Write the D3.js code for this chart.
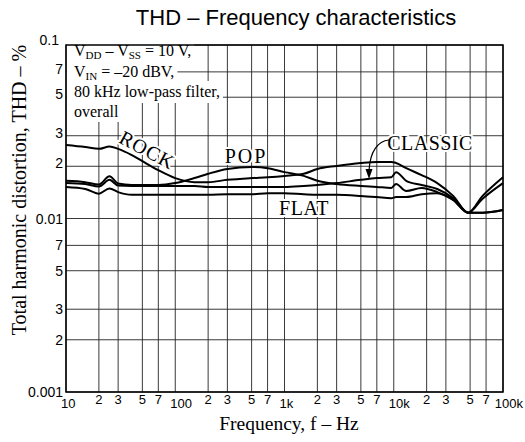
<!DOCTYPE html>
<html lang="en">
<head>
<meta charset="UTF-8">
<title>THD - Frequency characteristics</title>
<script src="https://d3js.org/d3.v7.min.js"></script>
<style>
  body { margin: 0; background: #fff; }
  .serif { font-family: "Liberation Serif", "Times New Roman", serif; }
  .sans { font-family: "Liberation Sans", Arial, sans-serif; }
</style>
</head>
<body>
<svg id="chart" width="525" height="442"></svg>
<script>
// frequencies (Hz) the curves were read at
var freqs   = [10, 15, 20, 25, 30, 40, 50, 70, 100, 150, 200, 300, 500, 700, 1000, 1500, 2000, 3000, 5000, 7000, 9500, 10500, 13000, 18000, 25000, 35000, 48000, 65000, 100000];
// THD (%) for each equalizer setting
var rock    = [0.0265, 0.0258, 0.0252, 0.0260, 0.0252, 0.0232, 0.0214, 0.0190, 0.0171, 0.0162, 0.0162, 0.0167, 0.0171, 0.0173, 0.0176, 0.0181, 0.0193, 0.0201, 0.0209, 0.0212, 0.0212, 0.0209, 0.0195, 0.0178, 0.0160, 0.0135, 0.0108, 0.0135, 0.0173];
var pop     = [0.0165, 0.0162, 0.0157, 0.0175, 0.0159, 0.0156, 0.0156, 0.0156, 0.0160, 0.0171, 0.0181, 0.0193, 0.0198, 0.0195, 0.0185, 0.0176, 0.0165, 0.0158, 0.0154, 0.0152, 0.0150, 0.0158, 0.0144, 0.0150, 0.0142, 0.0128, 0.0108, 0.0108, 0.0112];
var classic = [0.0160, 0.0158, 0.0153, 0.0167, 0.0155, 0.0154, 0.0154, 0.0154, 0.0154, 0.0154, 0.0152, 0.0152, 0.0152, 0.0152, 0.0152, 0.0154, 0.0156, 0.0160, 0.0167, 0.0171, 0.0173, 0.0185, 0.0165, 0.0156, 0.0148, 0.0131, 0.0108, 0.0130, 0.0160];
var flat    = [0.0152, 0.0148, 0.0139, 0.0149, 0.0142, 0.0137, 0.0137, 0.0137, 0.0137, 0.0137, 0.0137, 0.0138, 0.0138, 0.0140, 0.0140, 0.0138, 0.0137, 0.0137, 0.0135, 0.0133, 0.0131, 0.0133, 0.0133, 0.0138, 0.0140, 0.0128, 0.0108, 0.0108, 0.0112];

var xTicks = [10, 20, 30, 50, 70, 100, 200, 300, 500, 700, 1000, 2000, 3000, 5000, 7000, 10000, 20000, 30000, 50000, 70000, 100000];
var xTickLabels = ['10', '2', '3', '5', '7', '100', '2', '3', '5', '7', '1k', '2', '3', '5', '7', '10k', '2', '3', '5', '7', '100k'];
var yTicks = [0.001, 0.002, 0.003, 0.005, 0.007, 0.01, 0.02, 0.03, 0.05, 0.07, 0.1];
var yTickLabels = ['0.001', '2', '3', '5', '7', '0.01', '2', '3', '5', '7', '0.1'];

var svg = d3.select('#chart');
var L = 66, R = 503, T = 45, B = 392;
var x = d3.scaleLog().domain([10, 100000]).range([L, R]);
var y = d3.scaleLog().domain([0.001, 0.1]).range([B, T]);

// title
svg.append('text').attr('class', 'sans')
  .attr('x', 296).attr('y', 25).attr('text-anchor', 'middle')
  .attr('font-size', 22).text('THD \u2013 Frequency characteristics');

// grid
var grid = svg.append('g').attr('stroke', '#222').attr('stroke-width', 0.9);
grid.selectAll('line.v').data(xTicks).enter().append('line')
  .attr('x1', d => x(d)).attr('x2', d => x(d)).attr('y1', T).attr('y2', B);
grid.selectAll('line.h').data(yTicks).enter().append('line')
  .attr('y1', d => y(d)).attr('y2', d => y(d)).attr('x1', L).attr('x2', R);

// x tick labels
svg.append('g').attr('class', 'sans').attr('font-size', 13)
  .selectAll('text').data(xTicks).enter().append('text')
  .attr('x', (d, i) => {
    if (i == xTicks.length - 1) return x(d) + 20;
    return xTickLabels[i].length > 1 ? x(d) - 5 : x(d);
  })
  .attr('y', (d, i) => xTickLabels[i].length > 1 ? 408 : 404)
  .attr('text-anchor', (d, i) => i == xTicks.length - 1 ? 'end' : (xTickLabels[i].length > 1 ? 'start' : 'middle'))
  .text((d, i) => xTickLabels[i]);

// y tick labels
svg.append('g').attr('class', 'sans').attr('font-size', 14).attr('text-anchor', 'end')
  .selectAll('text').data(yTicks).enter().append('text')
  .attr('x', d => d == 0.1 ? 59 : 63)
  .attr('y', d => d == 0.1 ? y(d) : (d > 0.01 ? y(d) - 3 : y(d)))
  .attr('dy', d => d == 0.1 ? '0' : '0.36em')
  .text((d, i) => yTickLabels[i]);

// axis titles
svg.append('text').attr('class', 'serif')
  .attr('x', 289).attr('y', 430).attr('text-anchor', 'middle')
  .attr('font-size', 19.5).text('Frequency, f \u2013 Hz');
svg.append('text').attr('class', 'serif')
  .attr('transform', 'translate(26,190) rotate(-90)').attr('text-anchor', 'middle')
  .attr('font-size', 20).text('Total harmonic distortion, THD \u2013 %');

// conditions note, on a white patch that hides the grid
var noteBg = svg.append('g').attr('fill', '#fff');
var note = svg.append('g').attr('class', 'serif').attr('font-size', 16);
var n1 = note.append('text').attr('x', 74).attr('y', 56);
n1.append('tspan').text('V');
n1.append('tspan').attr('font-size', 11).attr('dy', 3).text('DD');
n1.append('tspan').attr('dy', -3).text(' \u2013 V');
n1.append('tspan').attr('font-size', 11).attr('dy', 3).text('SS');
n1.append('tspan').attr('dy', -3).text(' = 10 V,');
var n2 = note.append('text').attr('x', 74).attr('y', 77);
n2.append('tspan').text('V');
n2.append('tspan').attr('font-size', 11).attr('dy', 3).text('IN');
n2.append('tspan').attr('dy', -3).text(' = \u201320 dBV,');
note.append('text').attr('x', 74).attr('y', 97).text('80 kHz low-pass filter,');
note.append('text').attr('x', 74).attr('y', 117).text('overall');
note.selectAll('text').each(function () {
  var b = this.getBBox();
  noteBg.append('rect').attr('x', L + 1).attr('y', b.y - 2)
    .attr('width', b.x + b.width + 3 - L - 1).attr('height', b.height + 4);
});

svg.append('rect').attr('x', L).attr('y', T).attr('width', R - L).attr('height', B - T)
  .attr('fill', 'none').attr('stroke', '#000').attr('stroke-width', 1.5);

// curves
var line = d3.line().x(d => x(d[0])).y(d => y(d[1])).curve(d3.curveMonotoneX);
[rock, pop, classic, flat].forEach(function (s) {
  svg.append('path').datum(freqs.map((f, i) => [f, s[i]]))
    .attr('d', line).attr('fill', 'none').attr('stroke', '#000').attr('stroke-width', 2);
});

// curve labels
var lab = svg.append('g').attr('class', 'serif').attr('font-size', 20)
  .attr('stroke', '#fff').attr('stroke-width', 4).attr('stroke-linejoin', 'round')
  .attr('paint-order', 'stroke').attr('fill', '#000');
lab.append('text').attr('transform', 'translate(144,156) rotate(28)')
  .attr('text-anchor', 'middle').attr('letter-spacing', 1).text('ROCK');
lab.append('text').attr('x', 246).attr('y', 163).attr('text-anchor', 'middle')
  .attr('letter-spacing', 2).text('POP');
lab.append('text').attr('x', 430).attr('y', 150).attr('text-anchor', 'middle')
  .attr('letter-spacing', 0.5).text('CLASSIC');
lab.append('text').attr('x', 304).attr('y', 215).attr('text-anchor', 'middle')
  .attr('letter-spacing', 0.5).text('FLAT');

// arrow to the CLASSIC curve
svg.append('path').attr('d', 'M389,140 C378,141 370,151 369,171')
  .attr('fill', 'none').attr('stroke', '#000').attr('stroke-width', 1.2);
svg.append('path').attr('d', 'M365.5,169 L372.5,169 L369,179 Z').attr('fill', '#000');
</script>
</body>
</html>
